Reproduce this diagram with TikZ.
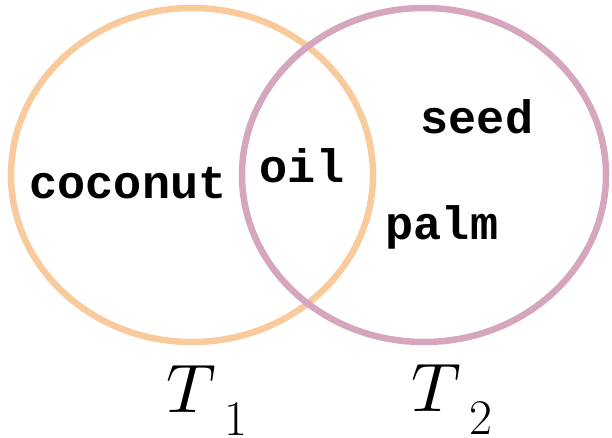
\documentclass[tikz,border=0pt]{standalone}
\usepackage{fontspec}
\DeclareFontShape{OML}{cmm}{m}{it}{<->cmmi10}{}
\newfontfamily\monob[BoldFont={Liberation Mono Bold}]{Liberation Mono}
\definecolor{setorange}{HTML}{F9CB9C}
\definecolor{setpink}{HTML}{D5A6BD}
\tikzset{
  setring/.style={line width=6.5bp},
  word/.style={anchor=base, inner sep=0pt, font=\monob\bfseries\fontsize{47}{47}\selectfont},
  setlabel/.style={anchor=base west, inner sep=0pt, font=\fontsize{69}{69}\selectfont}
}
\newcommand{\sublbl}[1]{\hspace{9bp}\raisebox{-23bp}{\fontsize{50}{50}\selectfont #1}}
\begin{document}
\begin{tikzpicture}[x=1bp,y=-1bp]
\useasboundingbox (0,0) rectangle (612,438);
\draw[setring, setorange] (192,175) ellipse [x radius=181, y radius=167];
\draw[setring, setpink] (424,175) ellipse [x radius=182, y radius=167];
\node[word] (coconut) at (128,199) {coconut};
\node[word] (oil) at (302,183) {oil};
\node[word] (seed) at (477,134) {seed};
\node[word] (palm) at (442,240) {palm};
\node[setlabel] (t1) at (166,412) {$T$\sublbl{1}};
\node[setlabel] (t2) at (411,411) {$T$\sublbl{2}};
\end{tikzpicture}
\end{document}
